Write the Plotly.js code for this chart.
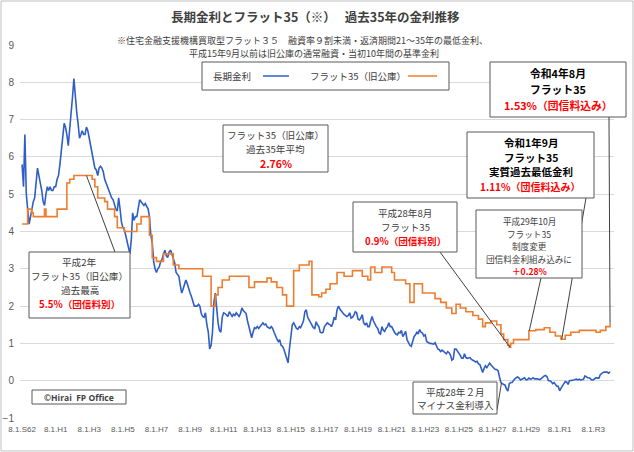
<!DOCTYPE html>
<html><head><meta charset="utf-8">
<script src="https://cdn.plot.ly/plotly-3.0.1.min.js"></script>
<style>html,body{margin:0;padding:0;background:#fff}#c{width:634px;height:452px}</style>
</head><body><div id="c"></div>
<script>
// ---- data ----
const rateStart = [1987, 8]; // first month of the monthly long-term rate series
const longRate = [
5.8,5.2,6.6,5.0,4.6,
4.2,4.4,4.6,4.8,4.9,5.3,5.7,5.5,5.3,5.1,4.8,4.7,
5.0,5.2,5.1,5.2,5.1,5.1,5.2,5.2,5.4,5.5,5.8,6.2,
6.5,6.9,6.8,6.6,6.3,6.7,7.0,7.6,8.1,7.6,7.2,6.9,
6.5,6.6,6.7,6.6,6.6,6.8,6.7,6.5,6.3,6.0,5.8,5.7,
5.65,5.5,5.7,5.75,5.7,5.6,5.4,5.3,5.2,5.05,5.0,4.9,
4.85,4.7,4.6,4.55,4.9,4.6,4.25,4.1,4.05,3.9,3.75,3.6,
3.4,3.8,4.5,4.3,4.4,4.4,4.6,4.85,4.8,4.75,4.7,4.75,
4.65,4.6,4.4,3.9,3.7,3.2,3.0,2.9,3.0,3.05,3.2,3.25,
3.4,3.5,3.35,3.3,3.45,3.5,3.4,3.25,3.15,2.9,2.85,2.8,
2.55,2.35,2.45,2.6,2.7,2.6,2.45,2.35,2.25,2.1,2.0,2.0,
2.0,2.05,2.0,1.8,1.72,1.7,1.82,1.5,1.3,0.85,0.95,1.3,
2.1,2.35,1.9,1.55,1.35,1.3,1.7,1.82,1.8,1.75,1.72,1.85,
1.8,1.72,1.78,1.75,1.82,1.75,1.72,1.8,1.95,1.88,1.85,1.8,
1.6,1.45,1.25,1.15,1.3,1.42,1.4,1.45,1.4,1.45,1.5,1.55,
1.5,1.52,1.45,1.42,1.4,1.45,1.4,1.3,1.18,1.12,1.05,1.1,
0.95,0.92,0.85,0.72,0.6,0.48,0.85,1.18,1.5,1.55,1.45,1.4,
1.38,1.45,1.42,1.5,1.6,1.85,1.9,1.7,1.63,1.55,1.45,1.42,
1.4,1.58,1.5,1.45,1.3,1.28,1.3,1.45,1.5,1.55,1.52,1.5,
1.45,1.55,1.7,1.63,1.9,2.0,1.92,1.85,1.82,1.78,1.75,1.72,
1.75,1.82,1.68,1.7,1.75,1.85,1.82,1.65,1.63,1.68,1.77,1.55,
1.5,1.55,1.45,1.45,1.6,1.72,1.6,1.5,1.45,1.4,1.28,1.25,
1.45,1.35,1.32,1.4,1.45,1.55,1.45,1.45,1.35,1.3,1.25,1.23,
1.3,1.28,1.35,1.18,1.25,1.32,1.1,1.0,0.95,0.92,1.05,1.18,
1.23,1.3,1.25,1.37,1.3,1.28,1.2,1.23,1.05,1.02,1.0,1.0,
1.0,0.98,1.02,0.92,0.85,0.83,0.78,0.82,0.78,0.77,0.72,0.78,
0.75,0.68,0.55,0.58,0.85,0.85,0.8,0.73,0.68,0.6,0.6,0.72,
0.62,0.6,0.62,0.62,0.57,0.56,0.53,0.5,0.52,0.45,0.43,0.33,
0.22,0.33,0.4,0.35,0.4,0.47,0.42,0.38,0.35,0.3,0.3,0.27,
0.1,-0.05,-0.08,-0.1,-0.12,-0.22,-0.28,-0.08,-0.05,-0.05,0.02,0.05,
0.08,0.1,0.07,0.02,0.04,0.06,0.08,0.02,0.03,0.07,0.04,0.05,
0.08,0.05,0.04,0.05,0.04,0.03,0.06,0.11,0.13,0.14,0.1,0.0,
0.0,-0.03,-0.08,-0.05,-0.09,-0.15,-0.15,-0.27,-0.2,-0.14,-0.08,-0.02,
-0.04,-0.1,0.0,0.0,0.0,0.02,0.03,0.04,0.02,0.04,0.02,0.02,
0.04,0.13,0.1,0.08,0.08,0.05,0.02,0.02,0.06,0.08,0.07,0.07,
0.16,0.2,0.22,0.23,0.24,0.23,0.2,0.24
];
// Flat35 (former GHLC) rate: change dates and rates (step line)
const flatDates = ['1987-08','1987-12','1988-03','1988-04','1988-12','1989-01','1989-09','1990-04','1990-06','1990-09',
'1991-10','1991-12','1992-02','1992-07','1992-09','1993-02','1993-04','1993-09','1994-06','1994-09',
'1995-03','1995-05','1995-08','1996-01','1996-08','1996-12','1998-05','1998-11','1999-02','1999-04',
'1999-07','1999-12','2001-02','2001-06','2002-03','2002-06','2002-10','2003-02','2003-05','2003-10',
'2004-02','2004-09','2004-11','2005-04','2005-06','2005-09','2005-12','2006-05','2006-10','2007-04',
'2007-11','2008-03','2008-05','2008-08','2009-01','2009-08','2009-10','2010-06','2010-09','2010-12',
'2011-06','2012-03','2012-07','2012-11','2013-03','2013-06','2013-09','2014-01','2014-06','2014-10',
'2015-01','2015-03','2015-07','2015-11','2016-02','2016-04','2016-07','2016-08','2016-09','2016-11',
'2017-10','2018-03','2018-09','2019-01','2019-05','2019-09','2019-12','2020-04','2020-10','2021-04',
'2021-10','2022-01','2022-05','2022-08'];
const flatRates = [4.2,4.6,4.5,4.4,4.6,4.4,4.6,5.3,5.4,5.5,
5.4,5.2,4.9,4.8,4.6,4.4,4.1,4.0,4.2,4.4,
3.9,3.3,3.2,3.4,3.1,3.0,2.8,2.0,2.3,2.5,
2.7,2.8,2.5,2.65,2.75,2.65,2.5,2.3,2.0,2.95,
3.1,3.2,2.3,2.25,2.35,2.45,2.6,2.9,2.8,2.95,
2.8,2.7,3.05,2.9,3.05,2.9,2.7,2.6,2.1,2.6,
2.35,2.2,2.1,1.95,1.8,2.05,1.95,1.85,1.75,1.65,
1.45,1.55,1.6,1.5,1.25,1.1,0.95,0.9,1.0,1.1,
1.34,1.37,1.42,1.3,1.2,1.11,1.22,1.3,1.35,1.35,
1.3,1.35,1.45,1.53];
const seriesNames = ['長期金利','フラット35（旧公庫）'];
const tickDates = ['1987-08-01','1989-08-01','1991-08-01','1993-08-01','1995-08-01','1997-08-01','1999-08-01','2001-08-01','2003-08-01',
'2005-08-01','2007-08-01','2009-08-01','2011-08-01','2013-08-01','2015-08-01','2017-08-01','2019-08-01','2021-08-01'];
const tickLabels = ['8.1.S62','8.1.H1','8.1.H3','8.1.H5','8.1.H7','8.1.H9','8.1.H11','8.1.H13','8.1.H15',
'8.1.H17','8.1.H19','8.1.H21','8.1.H23','8.1.H25','8.1.H27','8.1.H29','8.1.R1','8.1.R3'];

// ---- build ----
const rateDates = longRate.map((v,i)=>{
  const m = rateStart[1]-1+i; const y = rateStart[0]+Math.floor(m/12); const mm = (m%12)+1;
  return y+'-'+String(mm).padStart(2,'0')+'-01';
});
const BLUE='#2F5FC4', ORANGE='#ED7D31', JP='"Noto Sans CJK JP", "Noto Sans", sans-serif';
const PL=20, PT=45, PW=594, PH=373;
const X0='1987-06-17', X1='2022-10-26';
const t0=Date.parse(X0), t1=Date.parse(X1);
const px=x=>(x-PL)/PW, py=y=>(PT+PH-y)/PH;
const pxDate=x=>new Date(t0+(x-PL)/PW*(t1-t0)).toISOString().slice(0,10);
const pyVal=y=>9-(y-PT)/PH*10;

const traces=[
 {x:rateDates,y:longRate,type:'scatter',mode:'lines',name:seriesNames[0],line:{color:BLUE,width:1.6},showlegend:false,hoverinfo:'skip'},
 {x:flatDates,y:flatRates,type:'scatter',mode:'lines',name:seriesNames[1],line:{color:ORANGE,width:1.6,shape:'hv'},showlegend:false,hoverinfo:'skip'}
];

const TXT='#404040', RED='#FF0000';
function label(x,y,text,size,color,bold,family){
  return {xref:'paper',yref:'paper',x:px(x),y:py(y),xanchor:'center',yanchor:'middle',showarrow:false,
    text:bold?'<b>'+text+'</b>':text,font:{family:family||JP,size:size,color:color||TXT}};
}
// text boxes: rect [x0,y0,x1,y1] and lines [text, y, size, color, bold]
const boxes=[
 {r:[223,125,328,172],lines:[['フラット35（旧公庫）',135,9.6],['過去35年平均',149,9.6],['2.76%',163,10.5,RED,1]]},
 {r:[29,252,130,318],lines:[['平成2年',262,9.6],['フラット35（旧公庫）',276,9.6],['過去最高',290,9.6],['5.5%（団信料別）',304,9.6,RED,1]]},
 {r:[353,202,457,252],lines:[['平成28年8月',213,9.6],['フラット35',227,9.6],['0.9%（団信料別）',241,9.6,RED,1]]},
 {r:[413,382,497,414],lines:[['平成28年２月',392,9.6],['マイナス金利導入',405,9.6]]},
 {r:[476,210,582,278],lines:[['平成29年10月',221,8.6],['フラット35',233.5,8.6],['制度変更',246,8.6],['団信料金利組み込みに',258.5,8.6],['＋0.28%',271,8.6,RED,1]]},
 {r:[467,132,594,198],lines:[['令和1年9月',142,10.5,'#000',1],['フラット35',157,10.5,'#000',1],['実質過去最低金利',171.5,10.5,'#000',1],['1.11%（団信料込み）',186,10,RED,1]]},
 {r:[490,62,626,117],lines:[['令和4年8月',73,10.8,'#000',1],['フラット35',89,10.8,'#000',1],['1.53%（団信料込み）',105,10.8,RED,1]]},
 {r:[32,390,126,404],lines:[['©Hirai  FP Office',397,8.5,TXT,1,'"Open Sans", sans-serif']]}
];
const annotations=[
 label(315,17,'長期金利とフラット35（※）　 過去35年の金利推移',12.5,TXT,1),
 label(302,40,'※住宅金融支援機構買取型フラット３５　融資率９割未満・返済期間21～35年の最低金利、',9),
 label(314,53,'平成15年9月以前は旧公庫の通常融資・当初10年間の基準金利',9),
 label(232,76,seriesNames[0],9.5),
 label(358,76,seriesNames[1],9.5)
];
boxes.forEach(b=>b.lines.forEach(l=>annotations.push(label((b.r[0]+b.r[2])/2,l[1],l[0],l[2],l[3],l[4],l[5]))));

// pointer lines: [tail x px, tail y px, target date, target value]
const pointers=[
 [115,252,'1991-06-01',5.5],
 [440,252,'2016-08-15',0.9],
 [497,410,'2016-02-15',-0.05],
 [541,278,'2017-10-10',1.34],
 [586,198,'2019-09-15',1.11],
 [609,117,'2022-08-01',1.53]
];
const shapes=[
 {type:'rect',xref:'paper',yref:'paper',x0:px(1),x1:px(633),y0:py(1),y1:py(451),line:{color:'#BFBFBF',width:1},layer:'below'},
 {type:'rect',xref:'paper',yref:'paper',x0:px(100),x1:px(532),y0:py(34),y1:py(60),line:{width:0},fillcolor:'#fff'},
 {type:'rect',xref:'paper',yref:'paper',x0:px(202),x1:px(449),y0:py(62),y1:py(90),line:{color:'#595959',width:1},fillcolor:'#fff'},
 {type:'line',xref:'paper',yref:'paper',x0:px(263),x1:px(289),y0:py(76),y1:py(76),line:{color:BLUE,width:1.5}},
 {type:'line',xref:'paper',yref:'paper',x0:px(408),x1:px(437),y0:py(76),y1:py(76),line:{color:ORANGE,width:1.5}}
].concat(pointers.map(p=>({type:'line',xref:'x',yref:'y',x0:pxDate(p[0]),y0:pyVal(p[1]),x1:p[2],y1:p[3],line:{color:'#404040',width:1}})))
 .concat(boxes.map(b=>({type:'rect',xref:'paper',yref:'paper',x0:px(b.r[0]),x1:px(b.r[2]),y0:py(b.r[1]),y1:py(b.r[3]),line:{color:'#595959',width:1},fillcolor:'#fff'})));

const layout={
 width:634,height:452,margin:{l:PL,r:634-PL-PW,t:PT,b:452-PT-PH},
 paper_bgcolor:'#fff',plot_bgcolor:'#fff',showlegend:false,
 xaxis:{type:'date',range:[X0,X1],tickvals:tickDates,ticktext:tickLabels,showgrid:false,zeroline:false,
   tickfont:{family:'"Liberation Sans", sans-serif',size:8,color:'#595959'},ticks:'',ticklabelstandoff:5,fixedrange:true,tickangle:0},
 yaxis:{range:[-1,9],dtick:1,gridcolor:'#D9D9D9',gridwidth:1,zeroline:false,showline:false,ticks:'',ticklabelstandoff:5,
   tickfont:{family:'"Liberation Sans", sans-serif',size:10,color:'#595959'},fixedrange:true},
 annotations:annotations,shapes:shapes
};
Plotly.newPlot('c',traces,layout,{staticPlot:true,displayModeBar:false});
</script></body></html>
